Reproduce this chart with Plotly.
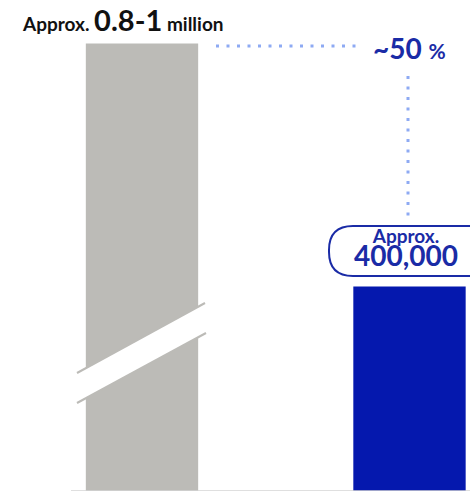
import plotly.graph_objects as go

# Data
categories = ["Before", "After"]
values = [875000, 400000]          # drawn height of the grey bar (axis is broken), reduced total
bar_colors = ["#BCBBB7", "#0518AE"]
label_before = "Approx. 0.8-1 million"
label_after = "Approx. 400,000"
reduction_label = "~50 %"

W, H = 470, 492
DARK_BLUE = "#1A2BA6"
DOT_BLUE = "#8EAAF3"
FONT = "Lato"

fig = go.Figure()
fig.add_trace(go.Bar(
    x=[0, 1], y=values, width=0.42,
    marker=dict(color=bar_colors, line=dict(width=0)),
    hoverinfo="skip", showlegend=False,
))

# px helper axes (x2/y2) share the plot area and map 1 unit = 1 pixel
fig.update_layout(
    width=W, height=H,
    margin=dict(l=0, r=0, t=0, b=1),
    plot_bgcolor="white", paper_bgcolor="white",
    xaxis=dict(range=[-142 / 267.5, (W - 142) / 267.5], visible=False, fixedrange=True),
    yaxis=dict(range=[0, 960000], visible=False, fixedrange=True),
    xaxis2=dict(range=[0, W], overlaying="x", visible=False, fixedrange=True),
    yaxis2=dict(range=[H - 1, 0], overlaying="y", visible=False, fixedrange=True),
    font=dict(family=FONT),
)
# dummy trace to activate x2/y2
fig.add_trace(go.Scatter(x=[0], y=[0], xaxis="x2", yaxis="y2", mode="markers",
                         marker=dict(opacity=0), hoverinfo="skip", showlegend=False))

shapes = []
# baseline
shapes.append(dict(type="line", xref="x2", yref="y2", x0=71, x1=W, y0=491, y1=491,
                   line=dict(color="#D4D4D4", width=1.5)))
# axis break band across the grey bar
shapes.append(dict(type="path", xref="x2", yref="y2",
                   path="M 77 373 L 205 303 L 206 333 L 77 403 Z",
                   fillcolor="white", line=dict(width=0)))
shapes.append(dict(type="line", xref="x2", yref="y2", x0=77, y0=373, x1=205, y1=303,
                   line=dict(color="#BCBBB7", width=2)))
shapes.append(dict(type="line", xref="x2", yref="y2", x0=77, y0=403, x1=206, y1=333,
                   line=dict(color="#BCBBB7", width=2)))
# dotted connector
shapes.append(dict(type="line", xref="x2", yref="y2", x0=216, x1=356, y0=46, y1=46,
                   line=dict(color=DOT_BLUE, width=3, dash="3px,7.5px")))
shapes.append(dict(type="line", xref="x2", yref="y2", x0=408, x1=408, y0=76, y1=218,
                   line=dict(color=DOT_BLUE, width=3, dash="3px,7.5px")))
# rounded label box
r = 24
x0, x1, y0, y1 = 329, 495, 226, 276
shapes.append(dict(type="path", xref="x2", yref="y2",
                   path=(f"M {x0 + r} {y0} L {x1 - r} {y0} Q {x1} {y0} {x1} {y0 + r} "
                         f"L {x1} {y1 - r} Q {x1} {y1} {x1 - r} {y1} L {x0 + r} {y1} "
                         f"Q {x0} {y1} {x0} {y1 - r} L {x0} {y0 + r} Q {x0} {y0} {x0 + r} {y0} Z"),
                   fillcolor="white", line=dict(color=DARK_BLUE, width=2)))
fig.update_layout(shapes=shapes)

head_b, tail_b = label_before.split(" ", 1)
num_b, unit_b = tail_b.split(" ")
head_a, num_a = label_after.split(" ")
pct_num, pct_sign = reduction_label.split(" ")

fig.add_annotation(
    xref="x2", yref="y2", x=20, y=19, xanchor="left", yanchor="middle", showarrow=False,
    text=(f"<b>{head_b} <span style='font-size:29px'>{num_b}</span> {unit_b}</b>"),
    font=dict(size=19, color="#111111", family=FONT),
)
fig.add_annotation(
    xref="x2", yref="y2", x=409, y=48, xanchor="center", yanchor="middle", showarrow=False,
    text=f"<b>{pct_num} <span style='font-size:21px'>{pct_sign}</span></b>",
    font=dict(size=28, color=DARK_BLUE, family=FONT),
)
fig.add_annotation(
    xref="x2", yref="y2", x=406, y=248, xanchor="center", yanchor="middle", showarrow=False,
    text=(f"<b><span style='font-size:19px'>{head_a}</span></b><br>"
          f"<b><span style='font-size:28px'>{num_a}</span></b>"),
    font=dict(size=18, color=DARK_BLUE, family=FONT),
)

fig.write_html("out.html")
